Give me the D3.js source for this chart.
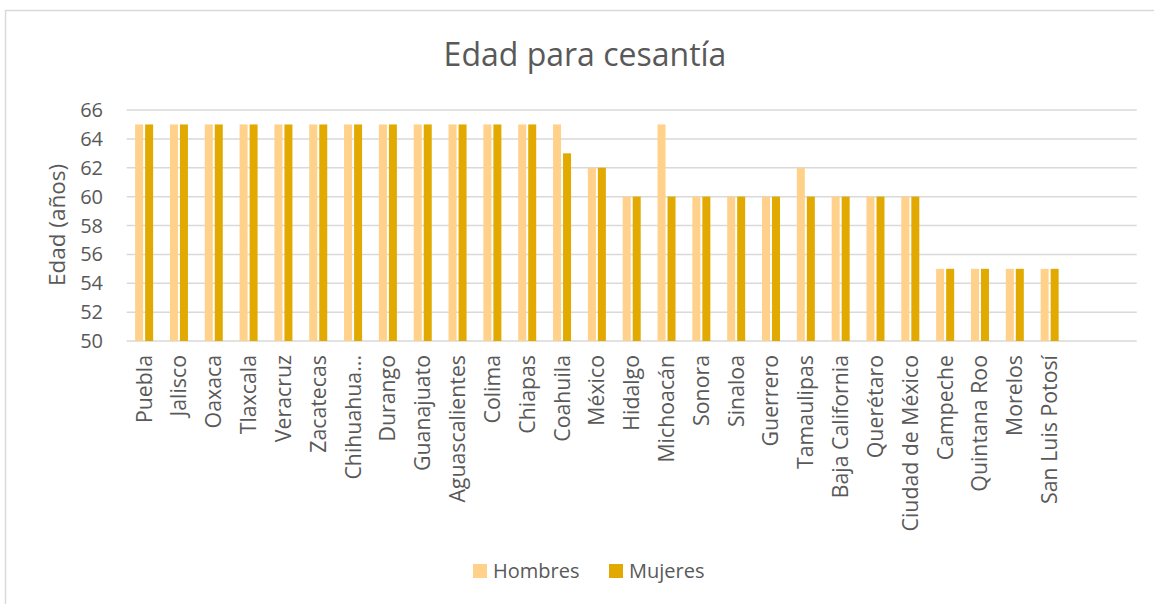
<!DOCTYPE html>
<html>
<head>
<meta charset="utf-8">
<script src="https://cdn.jsdelivr.net/npm/d3@7"></script>
<style>
  html, body { margin: 0; padding: 0; background: #fff; }
  svg { display: block; }
  text { font-family: "Open Sans", sans-serif; fill: #595959; }
</style>
</head>
<body>
<svg id="chart" width="1154" height="604"></svg>
<script>
const categories = ["Puebla","Jalisco","Oaxaca","Tlaxcala","Veracruz","Zacatecas","Chihuahua...","Durango","Guanajuato","Aguascalientes","Colima","Chiapas","Coahuila","México","Hidalgo","Michoacán","Sonora","Sinaloa","Guerrero","Tamaulipas","Baja California","Querétaro","Ciudad de México","Campeche","Quintana Roo","Morelos","San Luis Potosí"," ","  "];
const hombres = [65,65,65,65,65,65,65,65,65,65,65,65,65,62,60,65,60,60,60,62,60,60,60,55,55,55,55];
const mujeres = [65,65,65,65,65,65,65,65,65,65,65,65,63,62,60,60,60,60,60,60,60,60,60,55,55,55,55];
const seriesNames = ["Hombres","Mujeres"];
const seriesColors = ["#FFD18A","#E2AA00"];
const yTicks = [50,52,54,56,58,60,62,64,66];
const titleText = "Edad para cesantía";
const yAxisTitle = "Edad (años)";

const svg = d3.select("#chart");
const pLeft = 126.7, pRight = 1136.7, pTop = 110, pBottom = 341;

// chart border
svg.append("rect").attr("x",5.5).attr("y",10.5).attr("width",1170).attr("height",620)
  .attr("fill","none").attr("stroke","#d9d9d9").attr("stroke-width",1.5);

const x = d3.scaleBand().domain(categories).range([pLeft,pRight]).padding(0);
const x1 = d3.scaleBand().domain(seriesNames).range([0,18]).paddingInner(0.2);
const y = d3.scaleLinear().domain([50,66]).range([pBottom,pTop]);

// gridlines
svg.append("g").selectAll("line").data(yTicks).join("line")
  .attr("x1",pLeft).attr("x2",pRight)
  .attr("y1",d=>y(d)).attr("y2",d=>y(d))
  .attr("stroke","#d9d9d9").attr("stroke-width",1.5);

// y tick labels
svg.append("g").selectAll("text").data(yTicks).join("text")
  .attr("x",103).attr("y",d=>y(d)).attr("dy","0.35em")
  .attr("text-anchor","end").attr("font-size",20)
  .text(d=>d);

// bars
const data = hombres.map((h,i)=>({cat:categories[i], vals:[h,mujeres[i]]}));
const groups = svg.append("g").selectAll("g").data(data).join("g")
  .attr("transform",d=>`translate(${x(d.cat)+x.bandwidth()/2-9},0)`);
groups.selectAll("rect").data(d=>d.vals.map((v,j)=>({s:seriesNames[j],v,j}))).join("rect")
  .attr("x",d=>x1(d.s)).attr("width",x1.bandwidth())
  .attr("y",d=>y(d.v)).attr("height",d=>y(50)-y(d.v))
  .attr("fill",d=>seriesColors[d.j]);

// x labels
svg.append("g").selectAll("text").data(categories).join("text")
  .attr("transform",d=>`translate(${x(d)+x.bandwidth()/2},355) rotate(-90)`)
  .attr("dy","0.35em").attr("text-anchor","end").attr("font-size",21.3)
  .text(d=>d);

// title
svg.append("text").attr("x",585).attr("y",66).attr("text-anchor","middle")
  .attr("font-size",32).text(titleText);

// y axis title
svg.append("text").attr("transform","translate(57,225) rotate(-90)")
  .attr("text-anchor","middle").attr("dy","0.35em").attr("font-size",22.5).text(yAxisTitle);

// legend
const legX = [473,609];
const lg = svg.append("g").selectAll("g").data(seriesNames).join("g")
  .attr("transform",(d,i)=>`translate(${legX[i]},564)`);
lg.append("rect").attr("width",14).attr("height",14).attr("fill",(d,i)=>seriesColors[i]);
lg.append("text").attr("x",20).attr("y",7).attr("dy","0.35em").attr("font-size",20).text(d=>d);
</script>
</body>
</html>
